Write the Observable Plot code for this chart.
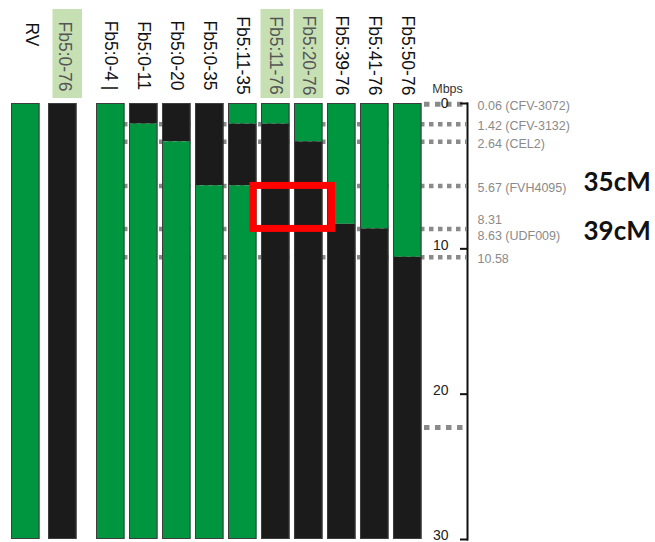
<!DOCTYPE html>
<html><head><meta charset="utf-8">
<script src="https://cdn.jsdelivr.net/npm/d3@7"></script>
<script src="https://cdn.jsdelivr.net/npm/@observablehq/plot@0.6"></script>
<style>
html,body{margin:0;padding:0;background:#fff;}
#chart svg{display:block;}
</style></head><body><div id="chart"></div>
<script>
// ---- data ----
const samples = ["RV","Fb5:0-76","Fb5:0-4","Fb5:0-11","Fb5:0-20","Fb5:0-35","Fb5:11-35","Fb5:11-76","Fb5:20-76","Fb5:39-76","Fb5:41-76","Fb5:50-76"];
const sampleLabels = ["RV","Fb5:0-76","Fb5:0-4 |","Fb5:0-11","Fb5:0-20","Fb5:0-35","Fb5:11-35","Fb5:11-76","Fb5:20-76","Fb5:39-76","Fb5:41-76","Fb5:50-76"];
const parents = ["RV","Fb5:0-76"];
const highlighted = ["Fb5:0-76","Fb5:11-76","Fb5:20-76"];

const segSample   = ["RV","Fb5:0-76","Fb5:0-4","Fb5:0-11","Fb5:0-11","Fb5:0-20","Fb5:0-20","Fb5:0-35","Fb5:0-35","Fb5:11-35","Fb5:11-35","Fb5:11-35","Fb5:11-76","Fb5:11-76","Fb5:20-76","Fb5:20-76","Fb5:39-76","Fb5:39-76","Fb5:41-76","Fb5:41-76","Fb5:50-76","Fb5:50-76"];
const segFrom     = [0,0,0,0,1.42,0,2.64,0,5.67,0,1.42,5.67,0,1.42,0,2.64,0,8.31,0,8.63,0,10.58];
const segTo       = [30,30,30,1.42,30,2.64,30,5.67,30,1.42,5.67,30,1.42,30,2.64,30,8.31,30,8.63,30,10.58,30];
const segGenotype = ["RV","Fb5","RV","Fb5","RV","Fb5","RV","Fb5","RV","RV","Fb5","RV","RV","Fb5","RV","Fb5","RV","Fb5","RV","Fb5","RV","Fb5"];

const markerPos   = [0.06, 1.42, 2.64, 5.67, 8.31, 8.63, 10.58];
const markerLabel = ["0.06 (CFV-3072)","1.42 (CFV-3132)","2.64 (CEL2)","5.67 (FVH4095)","8.31","8.63 (UDF009)","10.58"];
const markerLineAt = [1.42, 2.64, 5.67, 8.63, 10.58];   // dotted lines running across the columns
const edgeLineAt = [0.06, 22.3];                        // dotted lines only beside the axis
const cmLabel = ["35cM","39cM"];
const cmPos = [5.67, 8.63];
const yTicks = [0, 10, 20, 30];
const boxSamples = ["Fb5:11-76","Fb5:20-76"];
const boxRange = [5.67, 8.63];

// ---- tables ----
const segments = segSample.map((s, i) => ({sample: s, from: segFrom[i], to: segTo[i], genotype: segGenotype[i]}));
const labelOf = new Map(samples.map((s, i) => [s, sampleLabels[i]]));
const markers = markerPos.map((p, i) => ({pos: p, label: markerLabel[i]}));
const cms = cmPos.map((p, i) => ({pos: p, label: cmLabel[i]}));
const redBox = [{a: boxSamples[0], b: boxSamples[1], y1: boxRange[0], y2: boxRange[1]}];

// ---- layout / style ----
const W = 655, H = 542, mTop = 103, mBottom = 3, mRight = 188;
const FONT = "'Liberation Sans', Arial, sans-serif";
const green = "#00963f", black = "#1b1b1b", dotGray = "#8a8a8a";
const boxTop = 9, boxBottom = 98;
const lineReach = -40.5; // dotted lines run past the last column up to the axis
const lines = samples.filter(s => !parents.includes(s));
const barShift = {"RV": -19, "Fb5:0-76": -15};
const labelShift = {"RV": -13, "Fb5:0-76": -13};
const labelDy = {"RV": -69, "Fb5:0-76": -47};

function columnMarks(list, dx) {
  return [
    Plot.barY(segments.filter(d => list.includes(d.sample)), {x: "sample", y1: "from", y2: "to", fill: "genotype", dx}),
    Plot.cell(list, {x: d => d, fill: "none", stroke: "#3d3d3d", strokeWidth: 1, insetTop: 0.5, insetBottom: 0.5, insetLeft: 0.5, insetRight: 0.5, dx})
  ];
}
function boxMarks(list, dx) {
  return Plot.cell(list, {x: d => d, fill: "#c6e0b4", dx,
    insetTop: boxTop - mTop, insetBottom: (H - mBottom) - boxBottom, insetLeft: -0.5, insetRight: -0.5});
}
function labelMarks(list, dx, dy) {
  const plain = list.filter(s => !highlighted.includes(s));
  const hl = list.filter(s => highlighted.includes(s));
  const common = {x: d => d, text: d => labelOf.get(d), frameAnchor: "top", rotate: 90, fontSize: 17.5, fontFamily: FONT, textAnchor: "middle", lineAnchor: "middle", dx, dy};
  return [
    Plot.text(plain, {...common, fill: "#111"}),
    Plot.text(hl, {...common, fill: "#555"})
  ];
}
const mk = {frameAnchor: "right", dx: 10, textAnchor: "start", fontSize: 12.5, fontFamily: FONT, fill: "#8a8a8a", y: "pos", text: "label"};
const cmk = {y: "pos", text: "label", frameAnchor: "right", dx: 116, textAnchor: "start", fontSize: 26, fontWeight: "bold", fontFamily: "Lato, 'Open Sans', sans-serif", fill: "#111"};
const tk = {anchor: "right", tickSize: 0, tickPadding: -19, textAnchor: "end", label: null, fontSize: 14, fontFamily: FONT, fill: "#222"};

const chart = Plot.plot({
  width: W, height: H,
  marginTop: mTop, marginBottom: mBottom, marginLeft: 0, marginRight: mRight,
  style: {fontFamily: FONT, background: "#fff", overflow: "visible"},
  x: {type: "band", domain: samples, range: [30, 421.5], paddingInner: 0.136, paddingOuter: 0, round: false, axis: null},
  y: {domain: [0, 30], reverse: true},
  color: {domain: ["RV", "Fb5"], range: [green, black]},
  marks: [
    // label highlight boxes
    boxMarks(["Fb5:0-76"], -10),
    boxMarks(highlighted.filter(s => !parents.includes(s)), 0),
    // marker dotted lines (behind bars)
    Plot.ruleY(markerLineAt, {y: d => d, x1: () => "Fb5:0-4", x2: () => "Fb5:50-76", stroke: dotGray, strokeWidth: 4.5, strokeDasharray: "4.5,4.5", insetRight: lineReach - 4}),
    Plot.ruleY(edgeLineAt, {y: d => d, x1: () => "Fb5:50-76", x2: () => "Fb5:50-76", stroke: dotGray, strokeWidth: 5, strokeDasharray: "5.5,5.5", insetLeft: 31, insetRight: lineReach - 2}),
    // columns
    columnMarks(["RV"], barShift["RV"]),
    columnMarks(["Fb5:0-76"], barShift["Fb5:0-76"]),
    columnMarks(lines, 0),
    // column labels
    labelMarks(["RV"], labelShift["RV"], labelDy["RV"]),
    labelMarks(["Fb5:0-76"], labelShift["Fb5:0-76"], labelDy["Fb5:0-76"]),
    labelMarks(lines, 0, -48),
    // red highlight box
    Plot.rect(redBox, {x1: "a", x2: "b", y1: "y1", y2: "y2", fill: "none", stroke: "#ff0000", strokeWidth: 7, insetLeft: -8, insetRight: -9}),
    // axis
    Plot.frame({anchor: "right", stroke: "#111", strokeWidth: 2}),
    Plot.axisY({anchor: "right", ticks: yTicks, tickSize: -8, tickFormat: () => "", label: null, stroke: "#111", strokeWidth: 2}),
    Plot.axisY({...tk, ticks: yTicks.filter(t => t === 0), dy: 0.5}),
    Plot.axisY({...tk, ticks: yTicks.filter(t => t !== 0), dy: -3.5}),
    Plot.text(["Mbps"], {frameAnchor: "top-right", dx: -20, dy: -19, fontSize: 12.5, fontFamily: FONT, fill: "#333", textAnchor: "middle"}),
    // marker labels
    Plot.text(markers.filter(d => d.pos !== 8.31 && d.pos !== 8.63), {...mk, dy: 2}),
    Plot.text(markers.filter(d => d.pos === 8.31), {...mk, dy: -4}),
    Plot.text(markers.filter(d => d.pos === 8.63), {...mk, dy: 7}),
    // cM annotations
    Plot.text(cms.filter((d, i) => i === 0), {...cmk, dy: -3}),
    Plot.text(cms.filter((d, i) => i === 1), {...cmk, dy: 3})
  ]
});
document.getElementById("chart").appendChild(chart);
</script>
</body></html>
